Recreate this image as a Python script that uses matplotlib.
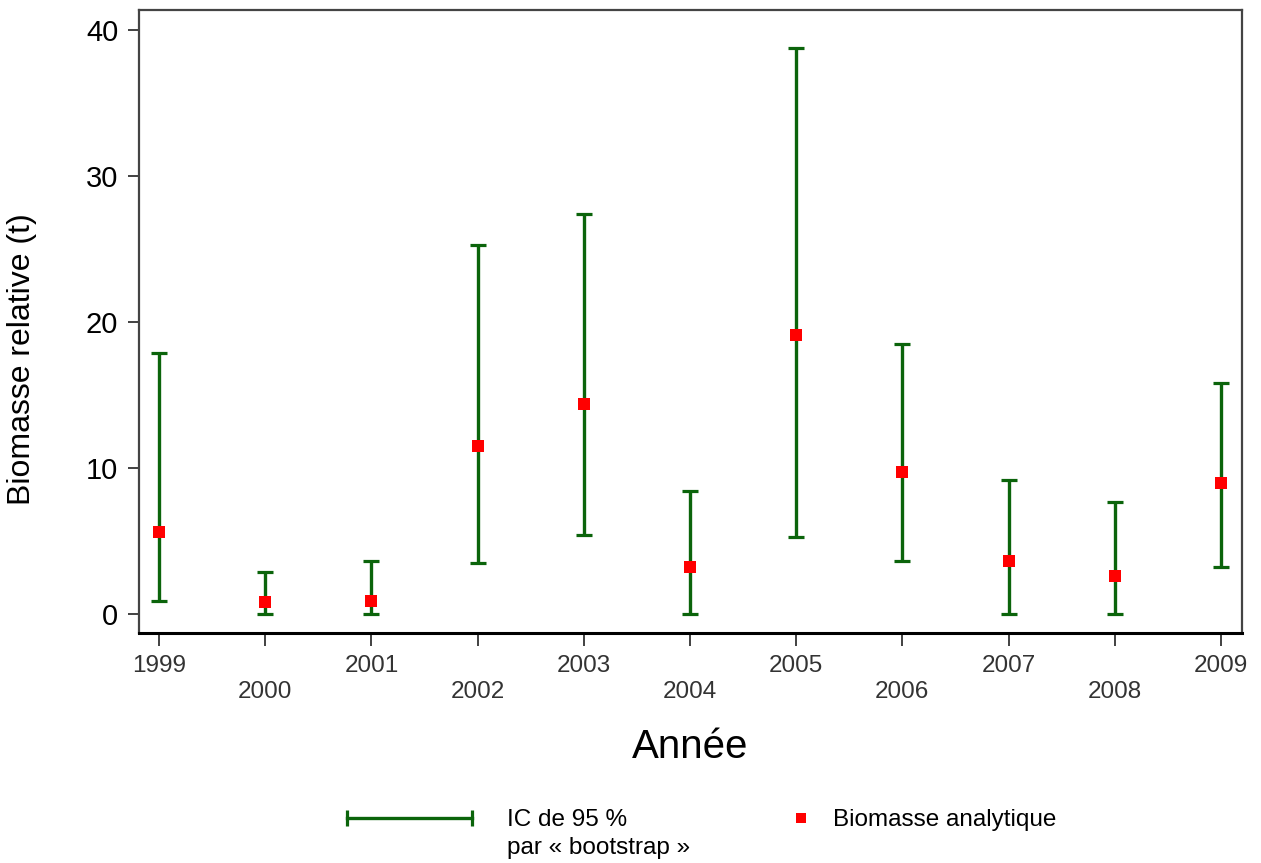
import numpy as np
import matplotlib.pyplot as plt
from matplotlib.lines import Line2D

plt.rcParams['font.family'] = ['Liberation Sans', 'DejaVu Sans']

# relative biomass per year with bootstrap 95 % confidence bounds
years = [1999, 2000, 2001, 2002, 2003, 2004, 2005, 2006, 2007, 2008, 2009]
biomass = [5.6, 0.8, 0.9, 11.5, 14.4, 3.2, 19.1, 9.7, 3.6, 2.6, 9.0]
ci_low = [0.9, 0.0, 0.0, 3.5, 5.4, 0.0, 5.3, 3.6, 0.0, 0.0, 3.2]
ci_high = [17.9, 2.9, 3.6, 25.3, 27.4, 8.4, 38.8, 18.5, 9.2, 7.7, 15.8]
y_ticks = [0, 10, 20, 30, 40]

green = '#0b640b'
red = '#ff0000'

fig = plt.figure(figsize=(12.61, 8.63), dpi=100)
ax = fig.add_axes([0.1102, 0.2665, 0.8748, 0.7219])

x = np.array(years)
b = np.array(biomass)
lo = np.array(ci_low)
hi = np.array(ci_high)

ax.errorbar(x, b, yerr=[b - lo, hi - b], fmt='none', ecolor=green,
            elinewidth=2.4, capsize=5.5, capthick=2.3, zorder=2)
ax.plot(x, b, 's', color=red, markersize=8.5, markeredgewidth=0, zorder=3)

ax.set_xlim(1998.81, 2009.2)
ax.set_ylim(-1.3, 41.37)

# staggered year labels
ax.set_xticks(years)
ax.set_xticklabels([str(y) if i % 2 == 0 else '\n' + str(y) for i, y in enumerate(years)],
                   fontsize=17.5, color='#333333', linespacing=1.25)
ax.set_yticks(y_ticks)
ax.set_yticklabels([str(v) for v in y_ticks], fontsize=21)

ax.tick_params(axis='x', direction='out', length=9, width=1.3, color='#333333', pad=7)
ax.tick_params(axis='y', direction='out', length=8, width=1.3, color='#333333', pad=7)

for side in ['left', 'top', 'right']:
    ax.spines[side].set_color('#444444')
    ax.spines[side].set_linewidth(1.6)
ax.spines['bottom'].set_color('black')
ax.spines['bottom'].set_linewidth(2.2)

ax.set_ylabel('Biomasse relative (t)', fontsize=23)
ax.yaxis.set_label_coords(-0.092, 0.44)
ax.set_xlabel('Année', fontsize=29)
ax.xaxis.set_label_coords(0.5, -0.152)

# legend drawn below the axes
fig.add_artist(Line2D([0.2752, 0.3743], [0.0521, 0.0521], transform=fig.transFigure,
                      color=green, linewidth=2.4, marker='|', markersize=11,
                      markeredgewidth=2.3))
fig.text(0.402, 0.0498, 'IC de 95 %', fontsize=17.5, va='center', ha='left')
fig.text(0.402, 0.0174, 'par « bootstrap »', fontsize=17.5, va='center', ha='left')
fig.add_artist(Line2D([0.635], [0.0521], transform=fig.transFigure, linestyle='none',
                      marker='s', color=red, markersize=7.5, markeredgewidth=0))
fig.text(0.6606, 0.0498, 'Biomasse analytique', fontsize=17.5, va='center', ha='left')

fig.savefig('out.png', dpi=100)
